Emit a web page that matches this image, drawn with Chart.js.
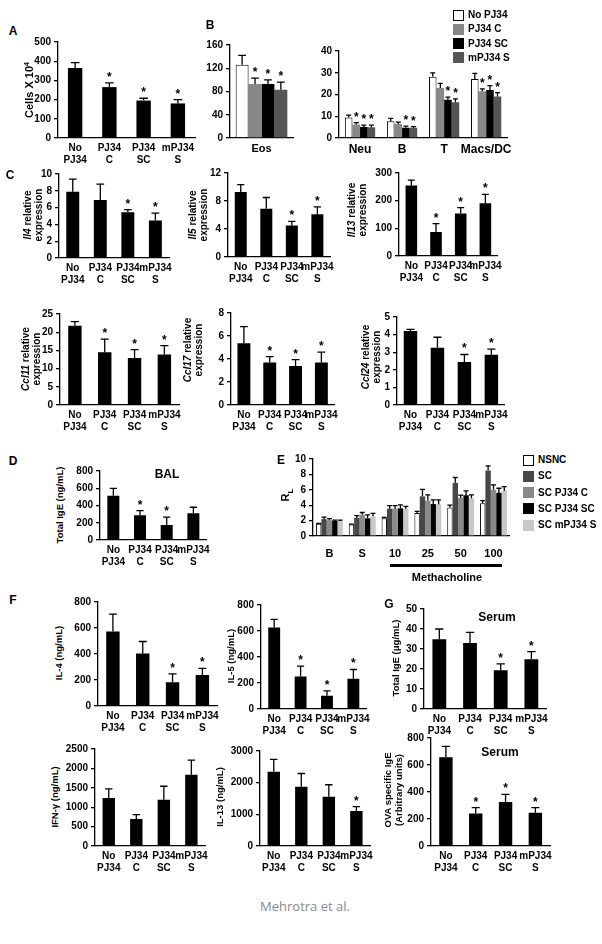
<!DOCTYPE html>
<html>
<head>
<meta charset="utf-8">
<script src="https://cdn.jsdelivr.net/npm/chart.js@4.4.0/dist/chart.umd.min.js"></script>
<style>
  body { margin: 0; background: #fff; width: 602px; height: 944px; position: relative; overflow: hidden;
         font-family: "Liberation Sans", Arial, sans-serif; }
  canvas { position: absolute; }
  .t { position: absolute; font-weight: bold; font-size: 10px; color: #000; white-space: nowrap;
       line-height: 1; transform: translate(-50%, -50%); }
  .yt { position: absolute; font-weight: bold; font-size: 10px; color: #000; white-space: nowrap;
        line-height: 11px; text-align: center; transform: translate(-50%, -50%) rotate(-90deg); }
  .letter { font-size: 12px; }
  .sw { position: absolute; width: 11px; height: 11px; box-sizing: border-box; }
</style>
</head>
<body>
<script>
// ---- data ----
const groupTicks = [["No", "PJ34"], ["PJ34", "C"], ["PJ34", "SC"], ["mPJ34", "S"]];
const groupNames = ["No PJ34", "PJ34 C", "PJ34 SC", "mPJ34 S"];
const cellTypes = ["Neu", "B", "T", "Macs/DC"];
const mchSteps = ["B", "S", "10", "25", "50", "100"];
const mchNames = ["NSNC", "SC", "SC PJ34 C", "SC PJ34 SC", "SC mPJ34 S"];

// A: BAL total cells
const cellsMean = [365, 265, 195, 180];
const cellsErr = [28, 22, 12, 20];
const cellsStar = [0, 1, 1, 1];

// B: eosinophils
const eosMean = [126, 93, 93, 83];
const eosErr = [16, 10, 7, 13];
const eosStar = [0, 1, 1, 1];

// B: other cell types (per group, over Neu, B, T, Macs/DC)
const noPjMean = [9.4, 7.7, 28.2, 27.1];
const noPjErr = [1.1, 1.3, 1.7, 2.6];
const pjCMean = [6.2, 6.4, 23, 21.5];
const pjCErr = [0.9, 0.9, 2.1, 1.1];
const pjScMean = [5.1, 4.7, 17.6, 22.1];
const pjScErr = [0.8, 0.8, 1.2, 2.0];
const mPjMean = [4.9, 4.7, 16.4, 19.1];
const mPjErr = [1.0, 0.5, 1.6, 1.8];
const pjCStar = [1, 0, 0, 1];
const pjScStar = [1, 1, 1, 1];
const mPjStar = [1, 1, 1, 1];

// C: relative expression
const il4Mean = [7.9, 6.9, 5.45, 4.45];
const il4Err = [1.5, 1.9, 0.3, 0.9];
const il4Star = [0, 0, 1, 1];
const il5Mean = [9.3, 6.9, 4.5, 6.1];
const il5Err = [1.05, 1.6, 0.6, 1.05];
const il5Star = [0, 0, 1, 1];
const il13Mean = [255, 87, 154, 191];
const il13Err = [19, 30, 21, 32];
const il13Star = [0, 1, 1, 1];
const ccl11Mean = [21.8, 14.5, 12.9, 13.9];
const ccl11Err = [1.1, 3.6, 2.3, 2.4];
const ccl11Star = [0, 1, 1, 1];
const ccl17Mean = [5.36, 3.7, 3.4, 3.7];
const ccl17Err = [1.45, 0.5, 0.55, 0.9];
const ccl17Star = [0, 1, 1, 1];
const ccl24Mean = [4.2, 3.25, 2.45, 2.85];
const ccl24Err = [0.1, 0.6, 0.42, 0.33];
const ccl24Star = [0, 0, 1, 1];

// D: BAL total IgE
const balIgeMean = [512, 288, 173, 311];
const balIgeErr = [86, 52, 92, 69];
const balIgeStar = [0, 1, 1, 0];

// E: lung resistance (per step B, S, 10, 25, 50, 100)
const nsncRl = [1.6, 1.5, 2.3, 3.0, 3.7, 4.25];
const nsncRlErr = [0.05, 0.05, 0.1, 0.2, 0.3, 0.35];
const scRl = [2.2, 2.35, 3.55, 5.15, 6.9, 8.5];
const scRlErr = [0.25, 0.3, 0.4, 0.9, 0.7, 0.6];
const scPjCRl = [2.05, 2.75, 3.55, 4.6, 4.95, 6.0];
const scPjCRlErr = [0.2, 0.3, 0.4, 0.75, 0.35, 0.65];
const scPjScRl = [1.95, 2.3, 3.6, 4.15, 5.3, 5.6];
const scPjScRlErr = [0.1, 0.45, 0.45, 0.55, 0.55, 0.6];
const scMPjRl = [1.95, 2.55, 3.5, 4.1, 4.9, 5.85];
const scMPjRlErr = [0.1, 0.4, 0.35, 0.6, 0.45, 0.55];

// F: cytokines (ng/mL)
const il4ProtMean = [573, 403, 182, 238];
const il4ProtErr = [133, 93, 65, 51];
const il4ProtStar = [0, 0, 1, 1];
const il5ProtMean = [627, 250, 102, 232];
const il5ProtErr = [62, 80, 38, 72];
const il5ProtStar = [0, 1, 1, 1];
const ifngMean = [1236, 694, 1190, 1835];
const ifngErr = [237, 114, 350, 380];
const il13ProtMean = [2348, 1874, 1554, 1103];
const il13ProtErr = [390, 415, 380, 140];
const il13ProtStar = [0, 0, 0, 1];

// G: serum IgE
const serumIgeMean = [34.9, 33, 19.4, 24.9];
const serumIgeErr = [5.1, 5.3, 3.2, 3.8];
const serumIgeStar = [0, 0, 1, 1];
const ovaIgeMean = [658, 241, 326, 247];
const ovaIgeErr = [80, 43, 57, 37];
const ovaIgeStar = [0, 1, 1, 1];

// ---- drawing ----
const FONT = '"Liberation Sans", Arial, sans-serif';
Chart.defaults.font.family = FONT;
Chart.defaults.color = "#000";

const AXW = 34, PADT = 8, PADR = 4;

// error bars (upper only) and significance stars
const errPlugin = {
  id: "errBars",
  afterDatasetsDraw(chart) {
    const ctx = chart.ctx, y = chart.scales.y;
    chart.data.datasets.forEach((ds, i) => {
      chart.getDatasetMeta(i).data.forEach((bar, j) => {
        const base = y.getPixelForValue(ds.data[j]);
        const top = y.getPixelForValue(ds.data[j] + ds.err[j]);
        const half = Math.max(2.5, bar.width * 0.3);
        ctx.save();
        ctx.strokeStyle = "#000";
        ctx.lineWidth = 1.3;
        ctx.beginPath();
        ctx.moveTo(bar.x, base);
        ctx.lineTo(bar.x, top);
        ctx.moveTo(bar.x - half, top);
        ctx.lineTo(bar.x + half, top);
        ctx.stroke();
        if (ds.star && ds.star[j]) {
          ctx.fillStyle = "#000";
          ctx.font = "bold 12px " + FONT;
          ctx.textAlign = "center";
          ctx.textBaseline = "alphabetic";
          ctx.fillText("*", bar.x, top - 2);
        }
        ctx.restore();
      });
    });
  }
};

function barChart(box, labels, datasets, o) {
  const xh = o.xh || 30;
  const w = box.x1 - box.x0 + AXW + PADR;
  const h = box.y1 - box.y0 + PADT + xh;
  const cv = document.createElement("canvas");
  cv.width = w;
  cv.height = h;
  cv.style.left = (box.x0 - AXW) + "px";
  cv.style.top = (box.y0 - PADT) + "px";
  document.body.appendChild(cv);
  return new Chart(cv, {
    type: "bar",
    data: { labels: labels, datasets: datasets },
    options: {
      responsive: false,
      animation: false,
      devicePixelRatio: 1,
      layout: { autoPadding: false, padding: { top: PADT, right: PADR, left: 0, bottom: 0 } },
      plugins: { legend: { display: false }, tooltip: { enabled: false } },
      scales: {
        x: {
          grid: { display: false, drawTicks: false },
          border: { display: true, color: "#000", width: 1.3 },
          ticks: {
            color: "#000", maxRotation: 0, autoSkip: false, padding: o.xpad || 4,
            font: { size: o.xfs || 10, weight: "bold", lineHeight: 1.2 }
          },
          afterFit: (s) => { s.height = xh; }
        },
        y: {
          min: 0, max: o.max,
          ticks: {
            stepSize: o.step, color: "#000", padding: 3,
            font: { size: 10, weight: "bold" },
            callback: (v) => String(v)
          },
          grid: { drawOnChartArea: false, drawTicks: true, tickLength: 4, color: "#000", lineWidth: 1.3 },
          border: { display: true, color: "#000", width: 1.3 },
          afterFit: (s) => { s.width = AXW; }
        }
      }
    },
    plugins: [errPlugin]
  });
}

function single(mean, err, star, bp) {
  return [{ data: mean, err: err, star: star, backgroundColor: "#000",
            borderWidth: 0, barPercentage: bp || 0.45, categoryPercentage: 1 }];
}

function series(mean, err, star, color, cp) {
  const white = color === "#fff";
  return { data: mean, err: err, star: star, backgroundColor: color,
           borderColor: "#000", borderWidth: white ? 1 : 0,
           barPercentage: 1, categoryPercentage: cp };
}

const grpColors = ["#fff", "#888888", "#000", "#555555"];
const mchColors = ["#fff", "#474747", "#8a8a8a", "#000", "#c8c8c8"];

// A
barChart({ x0: 58, y0: 41, x1: 195, y1: 138 }, groupTicks,
  single(cellsMean, cellsErr, cellsStar, 0.42), { max: 500, step: 100 });

// B
barChart({ x0: 230, y0: 44, x1: 293, y1: 138 }, ["Eos"], [
  series([eosMean[0]], [eosErr[0]], [eosStar[0]], grpColors[0], 0.82),
  series([eosMean[1]], [eosErr[1]], [eosStar[1]], grpColors[1], 0.82),
  series([eosMean[2]], [eosErr[2]], [eosStar[2]], grpColors[2], 0.82),
  series([eosMean[3]], [eosErr[3]], [eosStar[3]], grpColors[3], 0.82)
], { max: 160, step: 40, xfs: 11 });

barChart({ x0: 339, y0: 50, x1: 512, y1: 138 }, cellTypes, [
  series(noPjMean, noPjErr, [0, 0, 0, 0], grpColors[0], 0.72),
  series(pjCMean, pjCErr, pjCStar, grpColors[1], 0.72),
  series(pjScMean, pjScErr, pjScStar, grpColors[2], 0.72),
  series(mPjMean, mPjErr, mPjStar, grpColors[3], 0.72)
], { max: 40, step: 10, xfs: 12 });

// C
barChart({ x0: 59, y0: 173, x1: 172, y1: 258 }, groupTicks, single(il4Mean, il4Err, il4Star, 0.47), { max: 10, step: 2 });
barChart({ x0: 228, y0: 172, x1: 334, y1: 257 }, groupTicks, single(il5Mean, il5Err, il5Star, 0.47), { max: 12, step: 2 });
barChart({ x0: 399, y0: 172, x1: 502, y1: 256 }, groupTicks, single(il13Mean, il13Err, il13Star, 0.47), { max: 300, step: 100 });
barChart({ x0: 60, y0: 313, x1: 181, y1: 405 }, groupTicks, single(ccl11Mean, ccl11Err, ccl11Star, 0.45), { max: 25, step: 5 });
barChart({ x0: 231, y0: 312, x1: 338, y1: 405 }, groupTicks, single(ccl17Mean, ccl17Err, ccl17Star, 0.5), { max: 8, step: 2 });
barChart({ x0: 397, y0: 316, x1: 508, y1: 405 }, groupTicks, single(ccl24Mean, ccl24Err, ccl24Star, 0.5), { max: 5, step: 1 });

// D
barChart({ x0: 100, y0: 470, x1: 210, y1: 540 }, groupTicks, single(balIgeMean, balIgeErr, balIgeStar, 0.45), { max: 800, step: 200 });

// E
barChart({ x0: 313, y0: 458, x1: 510, y1: 536 }, mchSteps, [
  series(nsncRl, nsncRlErr, null, mchColors[0], 0.82),
  series(scRl, scRlErr, null, mchColors[1], 0.82),
  series(scPjCRl, scPjCRlErr, null, mchColors[2], 0.82),
  series(scPjScRl, scPjScRlErr, null, mchColors[3], 0.82),
  series(scMPjRl, scMPjRlErr, null, mchColors[4], 0.82)
], { max: 10, step: 2, xpad: 11, xfs: 11 });

// F
barChart({ x0: 98, y0: 601, x1: 219, y1: 706 }, groupTicks, single(il4ProtMean, il4ProtErr, il4ProtStar, 0.45), { max: 800, step: 200 });
barChart({ x0: 261, y0: 604, x1: 370, y1: 709 }, groupTicks, single(il5ProtMean, il5ProtErr, il5ProtStar, 0.45), { max: 800, step: 200 });
barChart({ x0: 95, y0: 748, x1: 208, y1: 846 }, groupTicks, single(ifngMean, ifngErr, null, 0.45), { max: 2500, step: 500 });
barChart({ x0: 260, y0: 750, x1: 373, y1: 846 }, groupTicks, single(il13ProtMean, il13ProtErr, il13ProtStar, 0.45), { max: 3000, step: 1000 });

// G
barChart({ x0: 424, y0: 608, x1: 548, y1: 709 }, groupTicks, single(serumIgeMean, serumIgeErr, serumIgeStar, 0.45), { max: 50, step: 10 });
barChart({ x0: 431, y0: 737, x1: 552, y1: 846 }, groupTicks, single(ovaIgeMean, ovaIgeErr, ovaIgeStar, 0.45), { max: 800, step: 200 });

// ---- text ----
function txt(x, y, html, cls, extra) {
  const d = document.createElement("div");
  d.className = cls || "t";
  d.style.left = x + "px";
  d.style.top = y + "px";
  if (extra) d.style.cssText += extra;
  d.innerHTML = html;
  document.body.appendChild(d);
}

// panel letters
txt(13, 31, "A", "t letter");
txt(210, 25, "B", "t letter");
txt(10, 175, "C", "t letter");
txt(13, 461, "D", "t letter");
txt(281, 460, "E", "t letter");
txt(13, 600, "F", "t letter");
txt(389, 604, "G", "t letter");

// y axis titles
txt(28, 90, "Cells X 10<sup style='font-size:7px'>4</sup>", "yt", "font-size:11px");
txt(33, 215, "<i>Il4</i> relative<br>expression", "yt");
txt(198, 215, "<i>Il5</i> relative<br>expression", "yt");
txt(357, 210, "<i>Il13</i> relative<br>expression", "yt");
txt(31, 359, "<i>Ccl11</i> relative<br>expression", "yt");
txt(193, 350, "<i>Ccl17</i> relative<br>expression", "yt");
txt(371, 357, "<i>Ccl24</i> relative<br>expression", "yt");
txt(59, 505, "Total IgE (ng/mL)", "yt", "font-size:9.5px");
txt(288, 495, "R<sub style='font-size:8px'>L</sub>", "yt", "font-size:11px");
txt(58, 653, "IL-4 (ng/mL)", "yt", "font-size:9.5px");
txt(230, 656, "IL-5 (ng/mL)", "yt", "font-size:9.5px");
txt(395, 658, "Total IgE (&mu;g/mL)", "yt", "font-size:9.5px");
txt(54, 797, "IFN-&gamma; (ng/mL)", "yt", "font-size:9.5px");
txt(219, 797, "IL-13 (ng/mL)", "yt", "font-size:9.5px");
txt(393, 790, "OVA specific IgE<br>(Arbitrary units)", "yt", "font-size:9.5px");

// chart titles
txt(167, 474, "BAL", "t", "font-size:12px");
txt(497, 617, "Serum", "t", "font-size:12px");
txt(500, 752, "Serum", "t", "font-size:12px");

// methacholine bracket
const bar = document.createElement("div");
bar.style.cssText = "position:absolute;left:390px;top:564px;width:112px;height:3px;background:#000;";
document.body.appendChild(bar);
txt(447, 577, "Methacholine", "t", "font-size:11px");

// legends
function legend(x, y0, dy, names, colors) {
  names.forEach((n, i) => {
    const y = y0 + i * dy;
    const s = document.createElement("div");
    s.className = "sw";
    s.style.left = x + "px";
    s.style.top = (y - 5.5) + "px";
    s.style.background = colors[i];
    if (colors[i] === "#fff") s.style.border = "1px solid #000";
    document.body.appendChild(s);
    txt(x + 15, y, n, "t", "transform:translate(0,-50%)");
  });
}
legend(453, 15, 14.3, groupNames, grpColors);
legend(523, 460, 16.3, mchNames, mchColors);

txt(305, 906, "Mehrotra et al.", "t", "font-family:'Open Sans',sans-serif;font-weight:normal;font-size:13px;color:#8a8a8a");
</script>
</body>
</html>
